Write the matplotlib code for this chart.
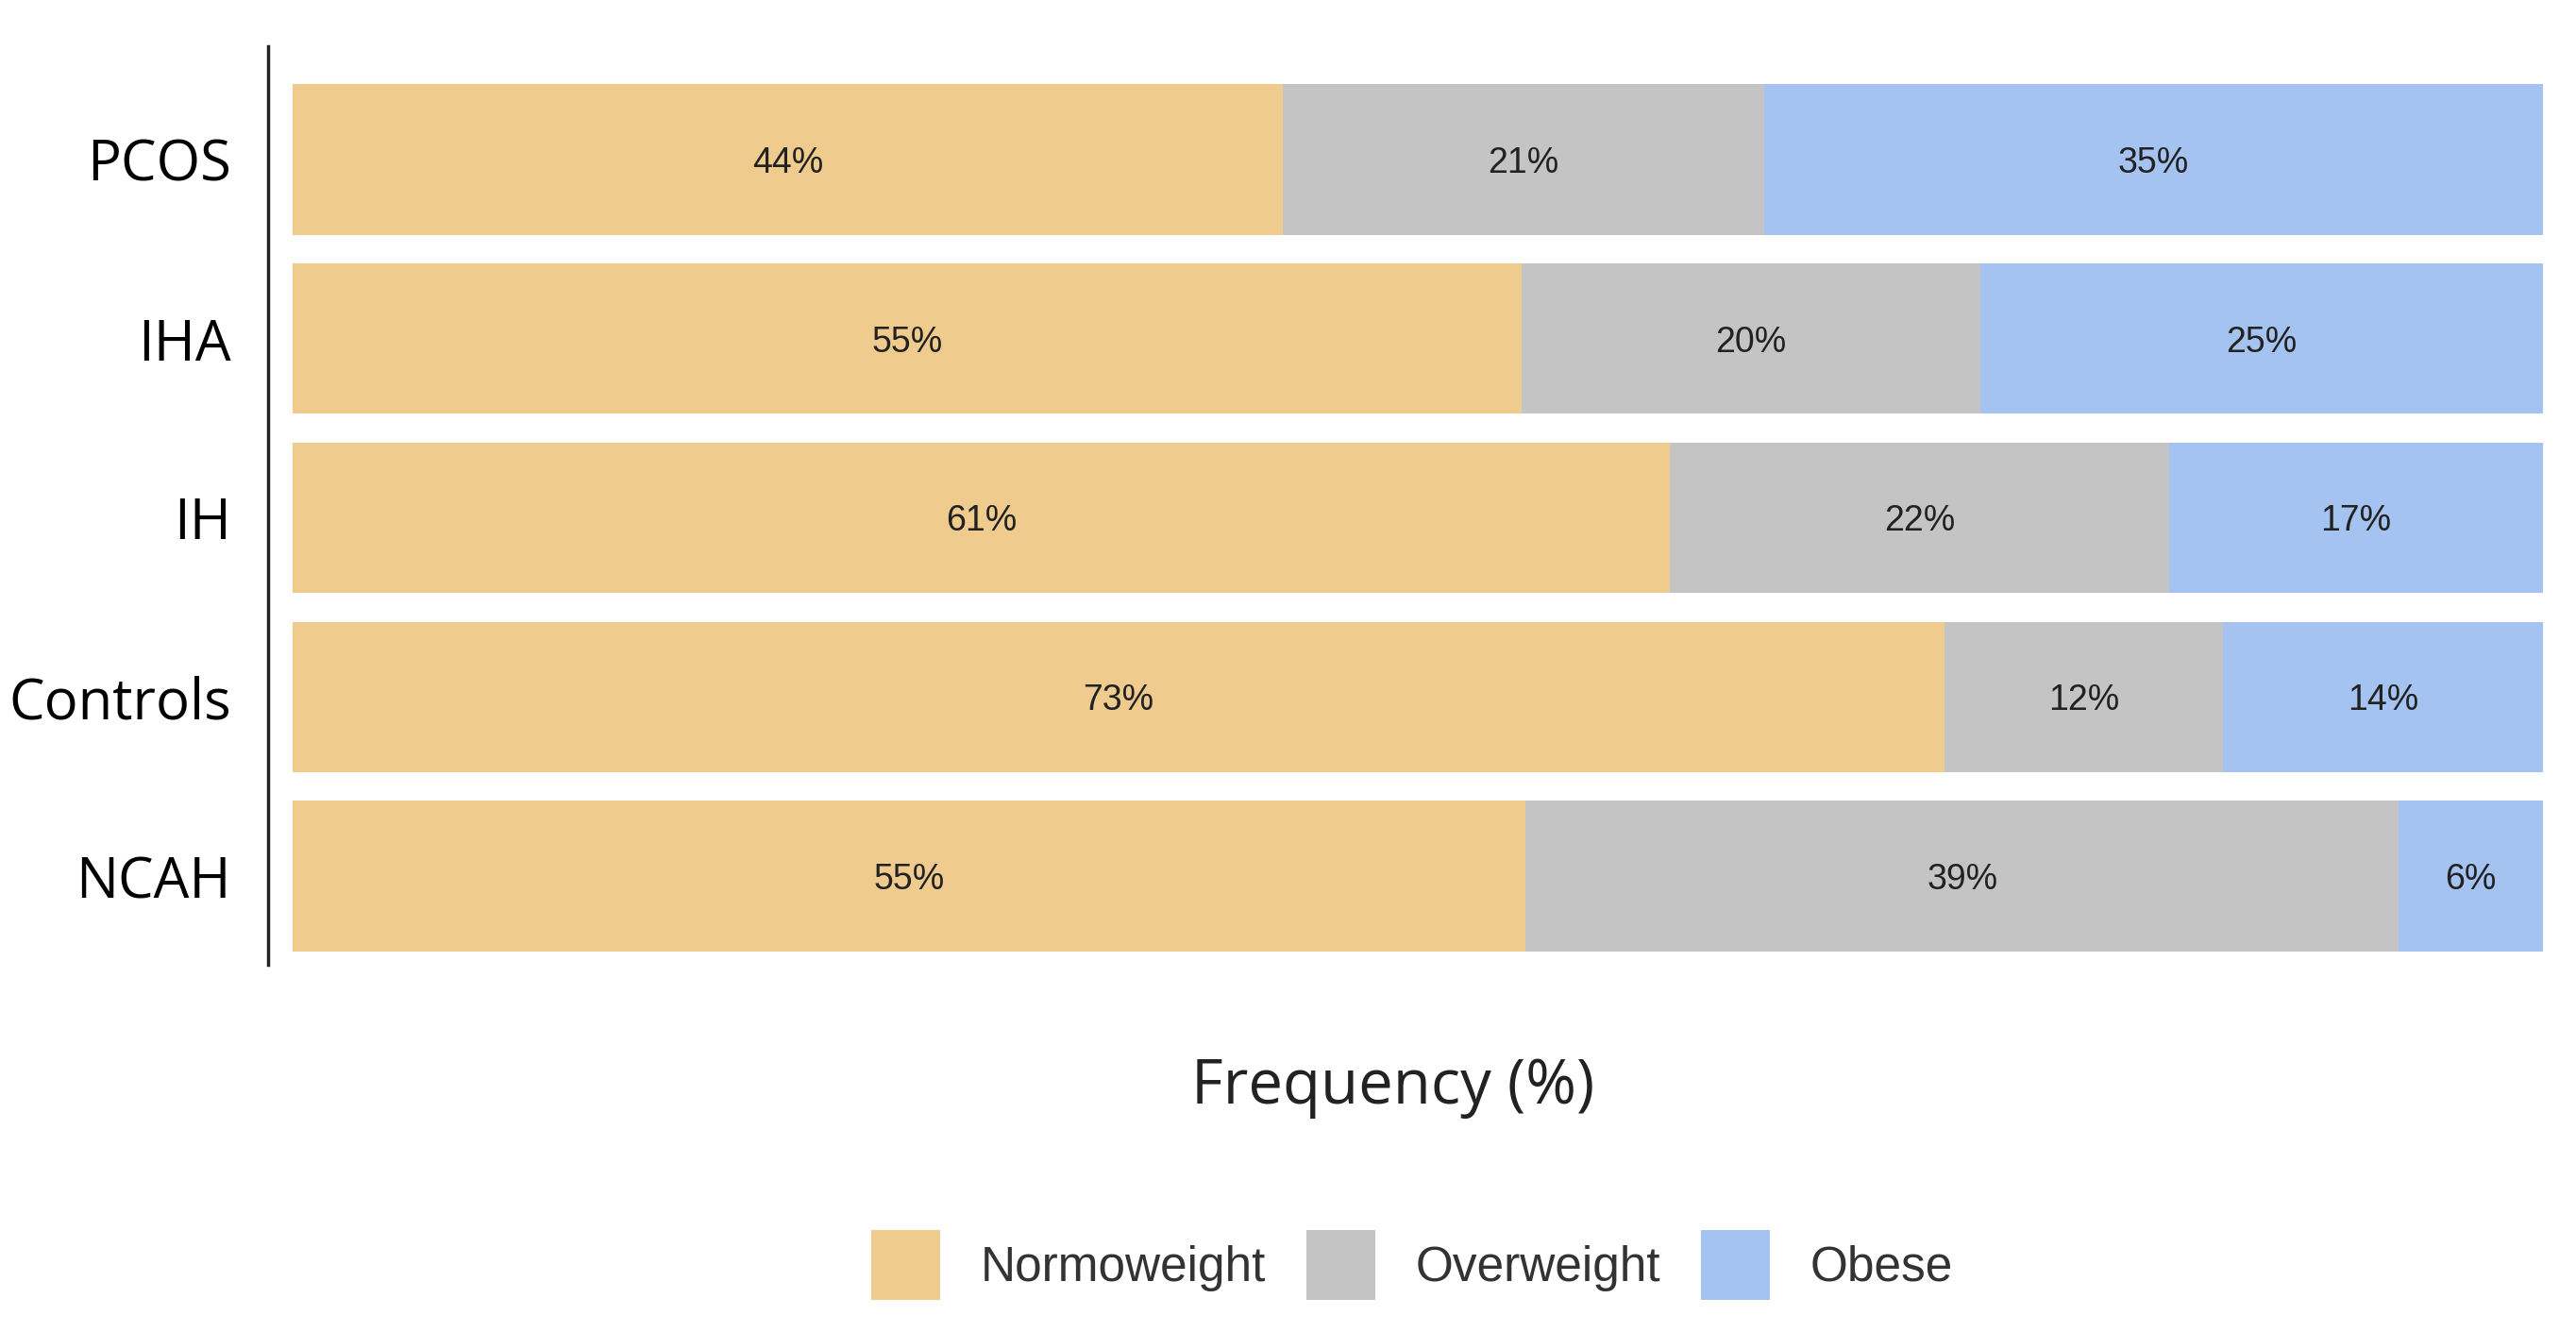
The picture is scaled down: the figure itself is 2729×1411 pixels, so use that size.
import matplotlib.pyplot as plt

groups = ['NCAH', 'Controls', 'IH', 'IHA', 'PCOS']
normoweight = [54.8, 73.4, 61.2, 54.6, 44.0]
overweight = [38.8, 12.4, 22.2, 20.4, 21.4]
obese = [6.4, 14.2, 16.6, 25.0, 34.6]

series_names = ['Normoweight', 'Overweight', 'Obese']
series_colors = ['#EFCB8E', '#C4C4C4', '#A4C3F0']

fig = plt.figure(figsize=(27.29, 14.11), dpi=100)
ax = fig.add_axes([284 / 2729, 0.2757, 2410 / 2729, 0.6896])

series = [normoweight, overweight, obese]
ypos = list(range(len(groups)))
left = [0.0] * len(groups)
for vals, name, col in zip(series, series_names, series_colors):
    ax.barh(ypos, vals, left=left, height=0.84, color=col, label=name, linewidth=0)
    for y, l, v in zip(ypos, left, vals):
        ax.text(l + v / 2, y, '{:.0f}%'.format(v), ha='center', va='center_baseline',
                fontsize=27, color='#222222', family='Liberation Sans')
    left = [l + v for l, v in zip(left, vals)]

ax.set_xlim(-1.09, 100)
ax.set_ylim(-0.495, 4.632)
ax.set_yticks(ypos)
ax.set_yticklabels(groups, fontsize=43, family='Open Sans')
ax.tick_params(axis='y', length=0, pad=28)
ax.set_xticks([])
for side in ['top', 'right', 'bottom']:
    ax.spines[side].set_visible(False)
ax.spines['left'].set_linewidth(2.5)
ax.spines['left'].set_color('#222222')

fig.text(1476 / 2729, 1 - 1152 / 1411, 'Frequency (%)', ha='center', va='center',
         fontsize=47, family='Open Sans', color='#222222')

leg = fig.legend(loc='center', bbox_to_anchor=(1496 / 2729, 1 - 1340 / 1411), ncol=3,
                 frameon=False, prop={'family': 'Liberation Sans', 'size': 37},
                 handlelength=1.42, handleheight=1.84, handletextpad=0.83, columnspacing=0.83)
for t in leg.get_texts():
    t.set_color('#333333')

fig.savefig('out.png', dpi=100)
